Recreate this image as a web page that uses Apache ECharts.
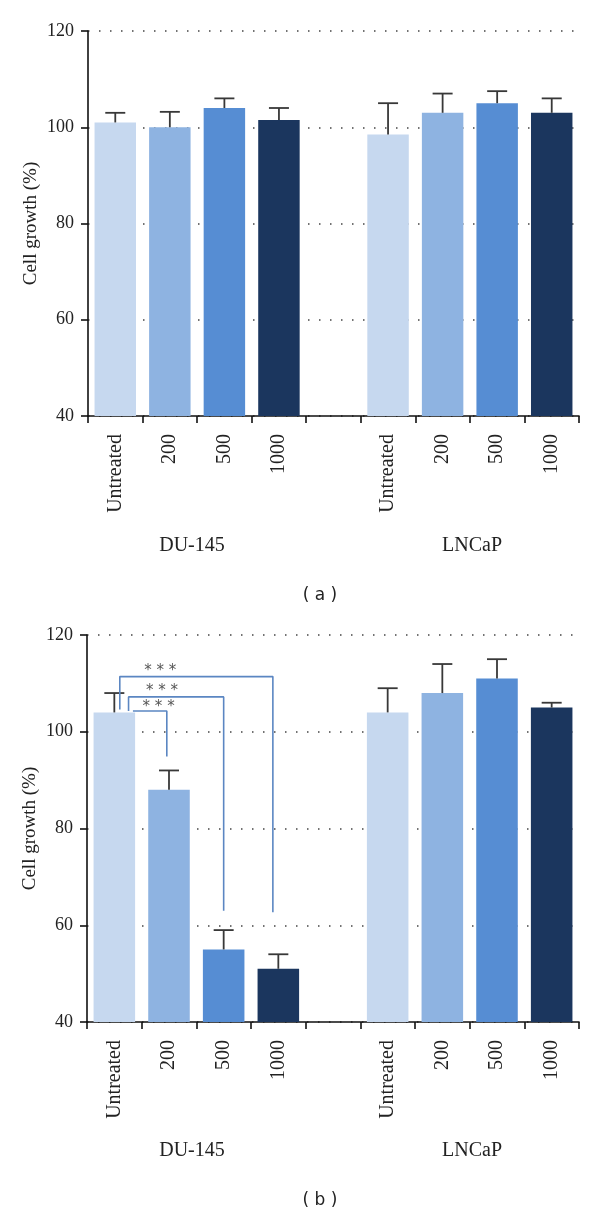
<!DOCTYPE html>
<html>
<head>
<meta charset="utf-8">
<script src="https://cdn.jsdelivr.net/npm/echarts@6/dist/echarts.min.js"></script>
<style>
html,body{margin:0;padding:0;background:#fff;}
#chart{width:600px;height:1210px;}
</style>
</head>
<body>
<div id="chart"></div>
<script>
// ---------- data ----------
const categories = ['Untreated', '200', '500', '1000', '', 'Untreated', '200', '500', '1000'];
const groupLabels = ['DU-145', 'LNCaP'];
const panelLabels = ['( a )', '( b )'];
const barColors = ['#c6d8ef', '#8eb3e1', '#568dd3', '#1b365e'];
const yTicks = [40, 60, 80, 100, 120];

// Panel (a)
const growthA = [101, 100, 104, 101.5, null, 98.5, 103, 105, 103];
const errA    = [2, 3.2, 2, 2.5, null, 6.5, 4, 2.5, 3];
// Panel (b)
const growthB = [104, 88, 55, 51, null, 104, 108, 111, 105];
const errB    = [4, 4, 4, 3, null, 5, 6, 4, 1];

// significance brackets (panel b): x in category-index units, y in % units
const bracketX1 = [0.10, 0.26, 0.34];
const bracketX2 = [2.90, 2.00, 0.96];
const bracketTop = [111.4, 107.2, 104.3];
const bracketLeftBottom = [104.6, 104.3, 104.3];
const bracketRightBottom = [62.7, 63.0, 94.9];
const starX = [0.84, 0.87, 0.81];
const starY = [112.6, 108.4, 105.0];
const starText = '* * *';

// ---------- chart ----------
const chart = echarts.init(document.getElementById('chart'), null, {renderer: 'canvas'});

const serif = 'Liberation Serif';
const textCol = '#222';

function colorIdx(i) { return i < 4 ? i : i - 5; }

function barData(vals) {
  return vals.map((v, i) => v == null ? null : {value: v, itemStyle: {color: barColors[colorIdx(i)]}});
}
function errData(vals, errs) {
  const out = [];
  vals.forEach((v, i) => { if (v != null) out.push([i, v, errs[i]]); });
  return out;
}
function errRender(params, api) {
  const x = api.value(0), v = api.value(1), e = api.value(2);
  const b = api.coord([x, v]);
  const t = api.coord([x, v + e]);
  const half = 10;
  const st = {stroke: '#383838', lineWidth: 1.8};
  return {type: 'group', children: [
    {type: 'line', shape: {x1: b[0], y1: b[1], x2: t[0], y2: t[1]}, style: st},
    {type: 'line', shape: {x1: t[0] - half, y1: t[1], x2: t[0] + half, y2: t[1]}, style: st}
  ]};
}

const grids = [
  {left: 88, right: 21, top: 31, height: 385},
  {left: 87, right: 21, top: 635, height: 387}
];

function catAxis(gi) {
  return {
    type: 'category', gridIndex: gi, data: categories,
    boundaryGap: true,
    axisLine: {onZero: false, lineStyle: {color: '#111', width: 1.6}},
    axisTick: {show: true, interval: 0, length: 7, lineStyle: {color: '#111', width: 1.6}},
    axisLabel: {interval: 0, rotate: 90, margin: 18, fontFamily: serif, fontSize: 20, color: textCol},
    splitLine: {show: false}
  };
}
function hiddenX(gi) {
  return {type: 'value', gridIndex: gi, min: -0.5, max: 8.5, show: false, splitLine: {show: false}};
}
function valAxis(gi) {
  return {
    type: 'value', gridIndex: gi, min: yTicks[0], max: yTicks[yTicks.length - 1], interval: 20,
    name: 'Cell growth (%)', nameLocation: 'middle', nameGap: 47, nameRotate: 90,
    nameMoveOverlap: false,
    nameTextStyle: {fontFamily: serif, fontSize: 19, color: textCol},
    axisLine: {show: true, onZero: false, lineStyle: {color: '#111', width: 1.6}},
    axisTick: {show: true, length: 7, lineStyle: {color: '#111', width: 1.6}},
    axisLabel: {margin: 14, fontFamily: serif, fontSize: 18, color: textCol},
    splitLine: {show: true, lineStyle: {color: '#444', width: 1.5, type: [1.5, 9.5]}}
  };
}

const series = [];
[[growthA, errA], [growthB, errB]].forEach(([g, e], gi) => {
  series.push({
    type: 'bar', xAxisIndex: gi * 2, yAxisIndex: gi, data: barData(g),
    barWidth: '76%', clip: true, silent: true, z: 2
  });
  series.push({
    type: 'custom', xAxisIndex: gi * 2, yAxisIndex: gi, data: errData(g, e),
    renderItem: errRender, encode: {x: 0, y: 1}, z: 3, silent: true
  });
});

// brackets in panel b
for (let k = 0; k < bracketX1.length; k++) {
  series.push({
    type: 'line', xAxisIndex: 3, yAxisIndex: 1, symbol: 'none', silent: true, z: 4,
    lineStyle: {color: '#5b86c2', width: 1.6},
    data: [
      [bracketX1[k], bracketLeftBottom[k]],
      [bracketX1[k], bracketTop[k]],
      [bracketX2[k], bracketTop[k]],
      [bracketX2[k], bracketRightBottom[k]]
    ]
  });
}
series.push({
  type: 'scatter', xAxisIndex: 3, yAxisIndex: 1, symbolSize: 0, silent: true, z: 5,
  data: starX.map((x, i) => [x, starY[i]]),
  label: {show: true, position: 'inside', formatter: starText, fontFamily: 'DejaVu Sans', fontSize: 15, color: '#2a2a2a'}
});

const graphics = [];
const groupX = [192, 472];
[[546, 596], [1151, 1201]].forEach(([gy, py], gi) => {
  groupLabels.forEach((t, j) => {
    graphics.push({type: 'text', x: groupX[j], y: gy, style: {text: t, font: '20px "Liberation Serif"', fill: textCol, textAlign: 'center', textVerticalAlign: 'middle'}});
  });
  graphics.push({type: 'text', x: 320, y: py, style: {text: panelLabels[gi], font: '17px "DejaVu Sans"', fill: textCol, textAlign: 'center', textVerticalAlign: 'middle'}});
});

chart.setOption({
  animation: false,
  backgroundColor: '#fff',
  grid: grids,
  xAxis: [catAxis(0), hiddenX(0), catAxis(1), hiddenX(1)],
  yAxis: [valAxis(0), valAxis(1)],
  series: series,
  graphic: graphics
});
</script>
</body>
</html>
